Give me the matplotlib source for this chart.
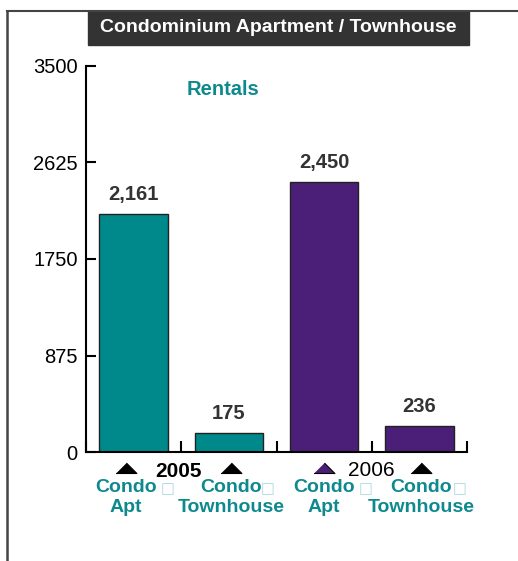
import matplotlib.pyplot as plt
from matplotlib.lines import Line2D
from matplotlib.patches import Rectangle

# datos del grafico
categorias = ["Condo Apt 2005", "Condo Townhouse 2005", "Condo Apt 2006", "Condo Townhouse 2006"]
valores = [2161, 175, 2450, 236]
etiquetas_valor = ["2,161", "175", "2,450", "236"]
linea1 = ["Condo", "Condo", "Condo", "Condo"]
linea2 = ["Apt", "Townhouse", "Apt", "Townhouse"]
anios = ["2005", "2006"]
yticks = [0, 875, 1750, 2625, 3500]

teal = "#00898B"
purple = "#4B1E78"
colores = [teal, teal, purple, purple]
texto_teal = "#0E8A8E"

plt.rcParams["font.family"] = ["Liberation Sans", "DejaVu Sans"]

fig = plt.figure(figsize=(5.18, 5.61), dpi=100)
ax = fig.add_axes([86 / 518, 109 / 561, 381 / 518, 386 / 561])

x = range(len(valores))
bars = ax.bar(x, valores, width=0.72, color=colores, edgecolor="#222222", linewidth=1)

for b, txt in zip(bars, etiquetas_valor):
    ax.annotate(txt, (b.get_x() + b.get_width() / 2, b.get_height()),
                xytext=(0, 7), textcoords="offset points", ha="center", va="bottom",
                fontsize=14.5, fontweight="bold", color="#333333")

ax.set_xlim(-0.5, 3.5)
ax.set_ylim(0, 3500)
ax.set_yticks(yticks)
ax.set_yticklabels([str(v) for v in yticks], fontsize=14.5)
ax.set_xticks([-0.5, 0.5, 1.5, 2.5, 3.5])
ax.set_xticklabels([])
ax.tick_params(axis="y", direction="in", length=7, width=1.5, pad=6)
ax.tick_params(axis="x", direction="in", length=8, width=1.5)
for s in ["top", "right"]:
    ax.spines[s].set_visible(False)
for s in ["left", "bottom"]:
    ax.spines[s].set_linewidth(1.5)

# etiquetas bajo el eje
tr = ax.get_xaxis_transform()
desp_caja = [0.36, 0.41, 0.44, 0.42]
desp_texto = [-0.08, 0.02, 0.0, 0.02]
for i in x:
    ax.plot(i + desp_texto[i], -0.054, marker=[(-1, 0), (1, 0), (0, 1)], markersize=15,
            transform=tr, clip_on=False, color=colores[i] if i == 2 else "black",
            markeredgecolor="black", markeredgewidth=0.8)
    ax.text(i + desp_texto[i], -0.091, linea1[i], transform=tr, ha="center", va="center",
            fontsize=14, fontweight="bold", color=texto_teal)
    ax.text(i + desp_caja[i], -0.092, "\u25a1", transform=tr, ha="center", va="center_baseline",
            fontsize=10.5, color="#A8D8DA", family="DejaVu Sans")
    ax.text(i + desp_texto[i], -0.143, linea2[i], transform=tr, ha="center", va="center",
            fontsize=14, fontweight="bold", color=texto_teal)

ax.text(0.47, -0.05, anios[0], transform=tr, ha="center", va="center",
        fontsize=15, fontweight="bold", color="black")
ax.text(2.5, -0.047, anios[1], transform=tr, ha="center", va="center",
        fontsize=15, color="black")

ax.text(0.36, 0.94, "Rentals", transform=ax.transAxes, ha="center", va="center",
        fontsize=14.5, fontweight="bold", color=texto_teal)

# caja del titulo
fig.add_artist(Rectangle((88 / 518, 516 / 561), 381 / 518, 34 / 561,
                         transform=fig.transFigure, color="#333333"))
fig.text(278.5 / 518, 533 / 561, "Condominium Apartment / Townhouse", ha="center", va="center",
         fontsize=14, fontweight="bold", color="white")

# marco
fig.add_artist(Line2D([7 / 518, 7 / 518], [0, 550 / 561], color="#444444", linewidth=1.8,
                      transform=fig.transFigure))
fig.add_artist(Line2D([7 / 518, 1], [550 / 561, 550 / 561], color="#444444", linewidth=1.5,
                      transform=fig.transFigure))

fig.savefig("out.png", dpi=100)
